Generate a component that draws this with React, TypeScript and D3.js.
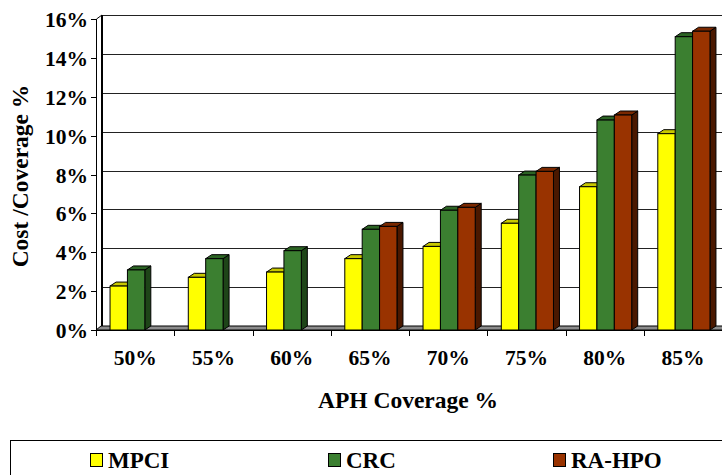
import React from "react";
import * as d3 from "d3";

const categories = ["50%", "55%", "60%", "65%", "70%", "75%", "80%", "85%"];
const seriesNames = ["MPCI", "CRC", "RA-HPO"];
const mpci = [2.26, 2.71, 2.98, 3.67, 4.3, 5.49, 7.37, 10.1];
const crc = [3.09, 3.67, 4.08, 5.18, 6.16, 7.97, 10.8, 15.09];
const rahpo: (number | null)[] = [null, null, null, 5.33, 6.31, 8.16, 11.06, 15.37];
const yTicks = [0, 2, 4, 6, 8, 10, 12, 14, 16];

const frontColors = ["#FFFF00", "#3B7F30", "#993300"];
const topColors = ["#C8C800", "#2C6424", "#7A2800"];
const sideColors = ["#A0A000", "#1E4518", "#4A1800"];

const W = 722;
const H = 475;
const FONT = "Liberation Serif, Times New Roman, Times, DejaVu Serif, serif";

const tickTxt: React.CSSProperties = { fontFamily: FONT, fontWeight: "bold", fontSize: "21.5px" };
const titleTxt: React.CSSProperties = { fontFamily: FONT, fontWeight: "bold", fontSize: "23.5px" };
const legTxt: React.CSSProperties = { fontFamily: FONT, fontWeight: "bold", fontSize: "23px" };

export default function App() {
  const x0 = 96;
  const x1 = 722;
  const yBase = 330;
  const dx = 5;
  const dy = 4;
  const bdx = 6;
  const bdy = 4;

  const x = d3.scaleBand<string>().domain(categories).range([x0, x1]).padding(0);
  const y = d3.scaleLinear().domain([0, 16]).range([yBase, 19]);
  const bw = x.bandwidth() / 4.5;
  const series = [mpci, crc, rahpo];

  const bars: JSX.Element[] = [];
  categories.forEach((c, i) => {
    series.forEach((s, k) => {
      const v = s[i];
      if (v == null) return;
      const bx = (x(c) as number) + bw * 0.75 + 1 + k * bw;
      const by = y(v);
      const top = `M${bx},${by}L${bx + bw},${by}L${bx + bw + bdx},${by - bdy}L${bx + bdx},${by - bdy}Z`;
      const side = `M${bx + bw},${by}L${bx + bw + bdx},${by - bdy}L${bx + bw + bdx},${yBase - bdy}L${bx + bw},${yBase}Z`;
      bars.push(
        <g key={`${i}-${k}`}>
          <path d={side} fill={sideColors[k]} stroke="#000" strokeWidth={1} strokeLinejoin="round" />
          <path d={top} fill={topColors[k]} stroke="#000" strokeWidth={1} strokeLinejoin="round" />
          <rect x={bx} y={by} width={bw} height={yBase - by} fill={frontColors[k]} stroke="#000" strokeWidth={1} />
        </g>
      );
    });
  });

  const legendItems = [
    { sq: 90, tx: 108 },
    { sq: 328, tx: 346 },
    { sq: 553, tx: 571 },
  ];

  return (
    <svg width={W} height={H} style={{ position: "absolute", left: 0, top: 0, background: "#fff" }}>
      {yTicks.map((t) => (
        <line key={t} x1={x0 + dx} x2={x1 + dx} y1={Math.round(y(t) - dy) + 0.5} y2={Math.round(y(t) - dy) + 0.5} stroke="#222" strokeWidth={1} />
      ))}
      <line x1={x0 + dx + 1} x2={x0 + dx + 1} y1={y(16) - dy} y2={yBase - dy} stroke="#000" strokeWidth={2} />
      <path
        d={`M${x0},${yBase}L${x1},${yBase}L${x1 + dx},${yBase - dy}L${x0 + dx},${yBase - dy}Z`}
        fill="#8c8c8c"
        stroke="#000"
        strokeWidth={1}
      />
      <line x1={x0 + 0.5} y1={y(16)} x2={x0 + dx + 1} y2={y(16) - dy} stroke="#000" strokeWidth={1} />
      <line x1={x0 + 0.5} x2={x0 + 0.5} y1={y(16)} y2={yBase + 1} stroke="#000" strokeWidth={1} />
      {yTicks.map((t) => (
        <g key={t}>
          <line x1={x0 - 5} x2={x0 + 0.5} y1={Math.round(y(t)) + 0.5} y2={Math.round(y(t)) + 0.5} stroke="#000" />
          <text x={88} y={y(t) + 8} textAnchor="end" style={tickTxt} fill="#000">
            {t}%
          </text>
        </g>
      ))}
      <line x1={x0} x2={x1} y1={yBase + 0.5} y2={yBase + 0.5} stroke="#000" />
      {categories.map((c) => (
        <line key={c} x1={Math.round(x(c) as number) + 0.5} x2={Math.round(x(c) as number) + 0.5} y1={yBase} y2={yBase + 6} stroke="#000" />
      ))}
      {bars}
      {categories.map((c) => (
        <text key={c} x={(x(c) as number) + x.bandwidth() / 2} y={365} textAnchor="middle" style={tickTxt} fill="#000">
          {c}
        </text>
      ))}
      <text x={408} y={408} textAnchor="middle" style={titleTxt} fill="#000">
        APH Coverage %
      </text>
      <text transform="translate(28,176) rotate(-90)" textAnchor="middle" style={titleTxt} fill="#000">
        Cost /Coverage %
      </text>
      <rect x={10.5} y={440.5} width={730} height={60} fill="#fff" stroke="#000" strokeWidth={1} />
      {seriesNames.map((n, k) => (
        <g key={n}>
          <rect x={legendItems[k].sq + 0.5} y={453.5} width={12} height={13} fill={frontColors[k]} stroke="#000" strokeWidth={1} />
          <text x={legendItems[k].tx} y={468} style={legTxt} fill="#000">
            {n}
          </text>
        </g>
      ))}
    </svg>
  );
}
